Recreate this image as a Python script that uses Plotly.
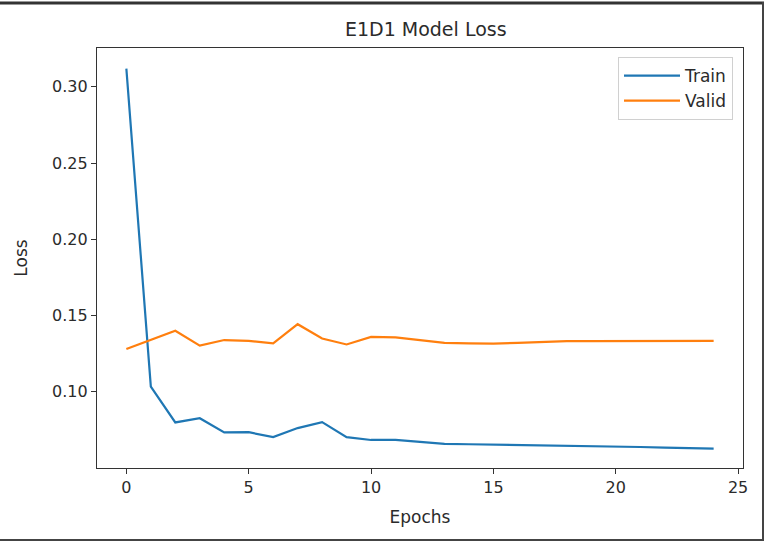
import plotly.graph_objects as go

epochs = list(range(25))
train_loss = [0.312, 0.1033, 0.0797, 0.0825, 0.0732, 0.0733, 0.0701, 0.0760, 0.0799,
              0.0701, 0.0682, 0.0683, 0.0669, 0.0656, 0.0654, 0.0652, 0.0649, 0.0647,
              0.0642, 0.0640, 0.0638, 0.0636, 0.0632, 0.0627, 0.0625]
valid_loss = [0.1279, 0.1338, 0.1399, 0.1301, 0.1338, 0.1333, 0.1316, 0.1442, 0.1348,
              0.1309, 0.1359, 0.1355, 0.1338, 0.1320, 0.1316, 0.1314, 0.1320, 0.1327,
              0.1331, 0.1331, 0.1331, 0.1331, 0.1331, 0.1331, 0.1332]
x_ticks = [0, 5, 10, 15, 20, 25]
y_ticks = [0.10, 0.15, 0.20, 0.25, 0.30]
y_tick_labels = ["0.10", "0.15", "0.20", "0.25", "0.30"]

FONT = "DejaVu Sans"
TXT = "#2b2b2b"

fig = go.Figure()
fig.add_trace(go.Scatter(x=epochs, y=train_loss, mode="lines", name="Train",
                         line=dict(color="#1f77b4", width=2.2)))
fig.add_trace(go.Scatter(x=epochs, y=valid_loss, mode="lines", name="Valid",
                         line=dict(color="#ff7f0e", width=2.2)))

L, R, T, B = 97, 21, 48, 73
W, H = 764, 541
pw, ph = W - L - R, H - T - B

def px(xp):
    return (xp - L) / pw

def py(yp):
    return (H - B - yp) / ph

axis_common = dict(showgrid=False, zeroline=False, showline=True, linecolor="#333333",
                   linewidth=1.2, mirror=True, ticks="outside", ticklen=5, tickwidth=1.2,
                   tickcolor="#333333", tickfont=dict(family=FONT, size=16, color=TXT))

fig.update_layout(
    width=W, height=H,
    margin=dict(l=L, r=R, t=T, b=B),
    paper_bgcolor="white", plot_bgcolor="white",
    title=dict(text="E1D1 Model Loss", x=px(457), xanchor="center", y=1 - 29 / H, yanchor="middle",
               font=dict(family=FONT, size=19, color=TXT)),
    xaxis=dict(range=[-1.2, 25.2], tickvals=x_ticks,
               title=dict(text="Epochs", font=dict(family=FONT, size=17, color=TXT), standoff=14),
               **axis_common),
    yaxis=dict(range=[0.0498, 0.3255], tickvals=y_ticks, ticktext=y_tick_labels,
               title=dict(text="Loss", font=dict(family=FONT, size=17, color=TXT), standoff=20),
               **axis_common),
    legend=dict(x=px(733), xanchor="right", y=py(57), yanchor="top",
                bgcolor="white", bordercolor="#d0d0d0", borderwidth=1,
                itemwidth=56, tracegroupgap=5,
                font=dict(family=FONT, size=17, color=TXT)),
    showlegend=True,
    shapes=[
        dict(type="line", xref="paper", yref="paper", x0=px(0), x1=px(764), y0=py(3), y1=py(3),
             line=dict(color="#333333", width=3)),
        dict(type="line", xref="paper", yref="paper", x0=px(0), x1=px(764), y0=py(540), y1=py(540),
             line=dict(color="#444444", width=2)),
        dict(type="line", xref="paper", yref="paper", x0=px(763), x1=px(763), y0=py(2), y1=py(541),
             line=dict(color="#444444", width=2)),
    ],
)

fig.write_html("out.html", config={"displayModeBar": False})

with open("out.html", "r", encoding="utf-8") as f:
    html = f.read()
html = html.replace("<body>", '<body style="margin:0;padding:0;overflow:hidden">', 1)
with open("out.html", "w", encoding="utf-8") as f:
    f.write(html)
